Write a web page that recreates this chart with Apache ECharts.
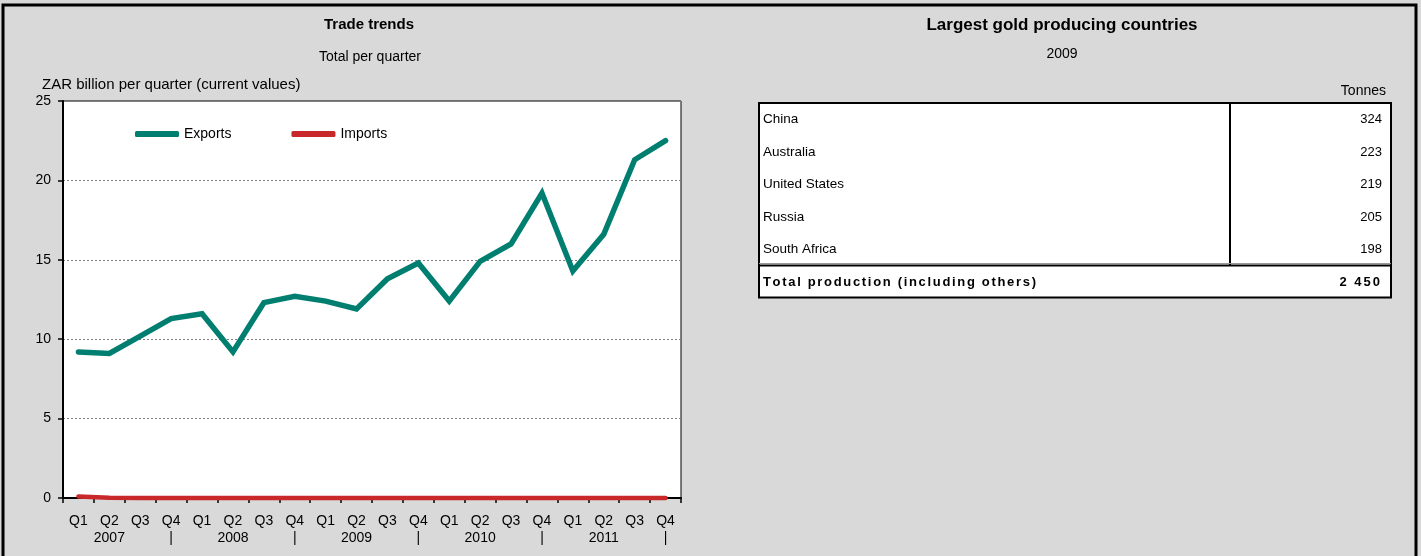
<!DOCTYPE html>
<html>
<head>
<meta charset="utf-8">
<script src="https://cdn.jsdelivr.net/npm/echarts@6/dist/echarts.min.js"></script>
<style>
  html, body { margin: 0; padding: 0; background: #d9d9d9; }
  #chart { width: 1421px; height: 556px; }
</style>
</head>
<body>
<div id="chart"></div>
<script>
// Quarterly trade values, ZAR billion (current values)
const years = ['2007', '2008', '2009', '2010', '2011'];
const quarters = ['Q1', 'Q2', 'Q3', 'Q4'];
const exportsValues = [9.2, 9.1, 10.2, 11.3, 11.6, 9.2, 12.3, 12.7, 12.4, 11.9,
                       13.8, 14.8, 12.4, 14.9, 16.0, 19.2, 14.3, 16.6, 21.3, 22.5];
const importsValues = [0.1, 0.02, 0, 0, 0, 0, 0, 0, 0, 0,
                       0, 0, 0, 0, 0, 0, 0, 0, 0, 0];
const yTicks = { min: 0, max: 25, interval: 5 };

// Gold production table, 2009 (tonnes)
const goldCountries = ['China', 'Australia', 'United States', 'Russia', 'South Africa'];
const goldTonnes = ['324', '223', '219', '205', '198'];
const goldTotalLabel = 'Total production (including others)';
const goldTotal = '2 450';

const categories = [];
years.forEach(y => quarters.forEach(q => categories.push(q + ' ' + y)));

const FONT = '"Liberation Sans", Arial, sans-serif';

// Measuring context for letter-spaced text
const measureCtx = document.createElement('canvas').getContext('2d');
function spacedText(str, font, x, y, spacing, align) {
  measureCtx.font = font;
  const widths = [...str].map(ch => measureCtx.measureText(ch).width);
  const total = widths.reduce((a, b) => a + b, 0) + spacing * (str.length - 1);
  let cx = align === 'right' ? x - total : x;
  const out = [];
  [...str].forEach((ch, i) => {
    if (ch !== ' ') {
      out.push({
        type: 'text', z: 12, x: cx, y: y,
        style: { text: ch, font: font, fill: '#000', align: 'left', verticalAlign: 'middle' }
      });
    }
    cx += widths[i] + spacing;
  });
  return out;
}

// Table geometry
const tbl = { left: 759, right: 1391, top: 103, rowH: 32.5, colX: 1230 };
const rowsBottom = tbl.top + tbl.rowH * goldCountries.length; // divider above total
const tblBottom = rowsBottom + 32;

const graphics = [];
// Table body
graphics.push({
  type: 'rect', z: 10,
  shape: { x: tbl.left, y: tbl.top, width: tbl.right - tbl.left, height: tblBottom - tbl.top },
  style: { fill: '#fff', stroke: '#000', lineWidth: 2 }
});
graphics.push({
  type: 'line', z: 11,
  shape: { x1: tbl.colX, y1: tbl.top, x2: tbl.colX, y2: rowsBottom },
  style: { stroke: '#000', lineWidth: 2 }
});
graphics.push({
  type: 'line', z: 11,
  shape: { x1: tbl.left, y1: rowsBottom - 2, x2: tbl.right, y2: rowsBottom - 2 },
  style: { stroke: '#999', lineWidth: 1 }
});
graphics.push({
  type: 'line', z: 11,
  shape: { x1: tbl.left, y1: rowsBottom, x2: tbl.right, y2: rowsBottom },
  style: { stroke: '#000', lineWidth: 2 }
});
goldCountries.forEach((name, i) => {
  const cy = tbl.top + tbl.rowH * i + 16.5;
  graphics.push({
    type: 'text', z: 12, x: 763, y: cy,
    style: { text: name, font: '13.5px ' + FONT, fill: '#000', align: 'left', verticalAlign: 'middle' }
  });
  graphics.push({
    type: 'text', z: 12, x: 1382, y: cy,
    style: { text: goldTonnes[i], font: '13px ' + FONT, fill: '#000', align: 'right', verticalAlign: 'middle' }
  });
});
const boldFont = 'bold 13px ' + FONT;
measureCtx.font = boldFont;
const labelNatural = measureCtx.measureText(goldTotalLabel).width;
const labelSpacing = Math.max(0, (272 - labelNatural) / (goldTotalLabel.length - 1));
graphics.push(...spacedText(goldTotalLabel, boldFont, 763, rowsBottom + 16.5, labelSpacing, 'left'));
graphics.push(...spacedText(goldTotal, boldFont, 1380, rowsBottom + 16.5, labelSpacing + 0.3, 'right'));
graphics.push({
  type: 'text', z: 12, x: 1386, y: 91,
  style: { text: 'Tonnes', font: '14px ' + FONT, fill: '#000', align: 'right', verticalAlign: 'middle' }
});
// Titles
graphics.push({
  type: 'text', z: 12, x: 369, y: 25,
  style: { text: 'Trade trends', font: 'bold 15px ' + FONT, fill: '#000', align: 'center', verticalAlign: 'middle' }
});
graphics.push({
  type: 'text', z: 12, x: 370, y: 57,
  style: { text: 'Total per quarter', font: '14px ' + FONT, fill: '#000', align: 'center', verticalAlign: 'middle' }
});
graphics.push({
  type: 'text', z: 12, x: 42, y: 85,
  style: { text: 'ZAR billion per quarter (current values)', font: '15px ' + FONT, fill: '#000', align: 'left', verticalAlign: 'middle' }
});
graphics.push({
  type: 'text', z: 12, x: 1062, y: 25,
  style: { text: 'Largest gold producing countries', font: 'bold 17px ' + FONT, fill: '#000', align: 'center', verticalAlign: 'middle' }
});
graphics.push({
  type: 'text', z: 12, x: 1062, y: 54,
  style: { text: '2009', font: '14px ' + FONT, fill: '#000', align: 'center', verticalAlign: 'middle' }
});
// Outer frame
graphics.push({
  type: 'rect', z: 20,
  shape: { x: 3, y: 5, width: 1413, height: 570 },
  style: { fill: 'none', stroke: '#000', lineWidth: 3 }
});

const chart = echarts.init(document.getElementById('chart'), null, { renderer: 'canvas' });
chart.setOption({
  backgroundColor: '#d9d9d9',
  animation: false,
  textStyle: { fontFamily: FONT, color: '#000' },
  grid: {
    left: 63, right: 740, top: 101, bottom: 58,
    show: true, backgroundColor: '#fff', borderColor: '#000', borderWidth: 1
  },
  legend: {
    left: 130, top: 122,
    icon: 'roundRect', itemWidth: 44, itemHeight: 6, itemGap: 60,
    textStyle: { fontSize: 14, color: '#000' },
    data: ['Exports', 'Imports']
  },
  xAxis: {
    type: 'category',
    data: categories,
    boundaryGap: true,
    axisLine: { lineStyle: { color: '#000', width: 2 } },
    axisTick: { show: true, length: 5, lineStyle: { color: '#000', width: 1.5 } },
    axisLabel: {
      interval: 0, margin: 15, fontSize: 14, lineHeight: 17, color: '#000',
      formatter: (v) => {
        const [q, y] = v.split(' ');
        const second = q === 'Q2' ? y : (q === 'Q4' ? '|' : ' ');
        return q + '\n' + second;
      }
    },
    splitLine: { show: false }
  },
  yAxis: {
    type: 'value',
    min: yTicks.min, max: yTicks.max, interval: yTicks.interval,
    axisLine: { show: true, lineStyle: { color: '#000', width: 2 } },
    axisTick: { show: true, length: 5, lineStyle: { color: '#000', width: 1.5 } },
    axisLabel: { fontSize: 14, color: '#000', margin: 12 },
    splitLine: { show: true, lineStyle: { color: '#808080', type: [2, 2], width: 1 } }
  },
  series: [
    {
      name: 'Exports', type: 'line', data: exportsValues,
      symbol: 'none', clip: false, z: 3,
      itemStyle: { color: '#007e70' },
      lineStyle: { color: '#007e70', width: 5.5, cap: 'round', join: 'miter' }
    },
    {
      name: 'Imports', type: 'line', data: importsValues,
      symbol: 'none', clip: false, z: 4,
      itemStyle: { color: '#c8282a' },
      lineStyle: { color: '#c8282a', width: 4.5, cap: 'round', join: 'round' }
    }
  ],
  graphic: graphics
});
</script>
</body>
</html>
